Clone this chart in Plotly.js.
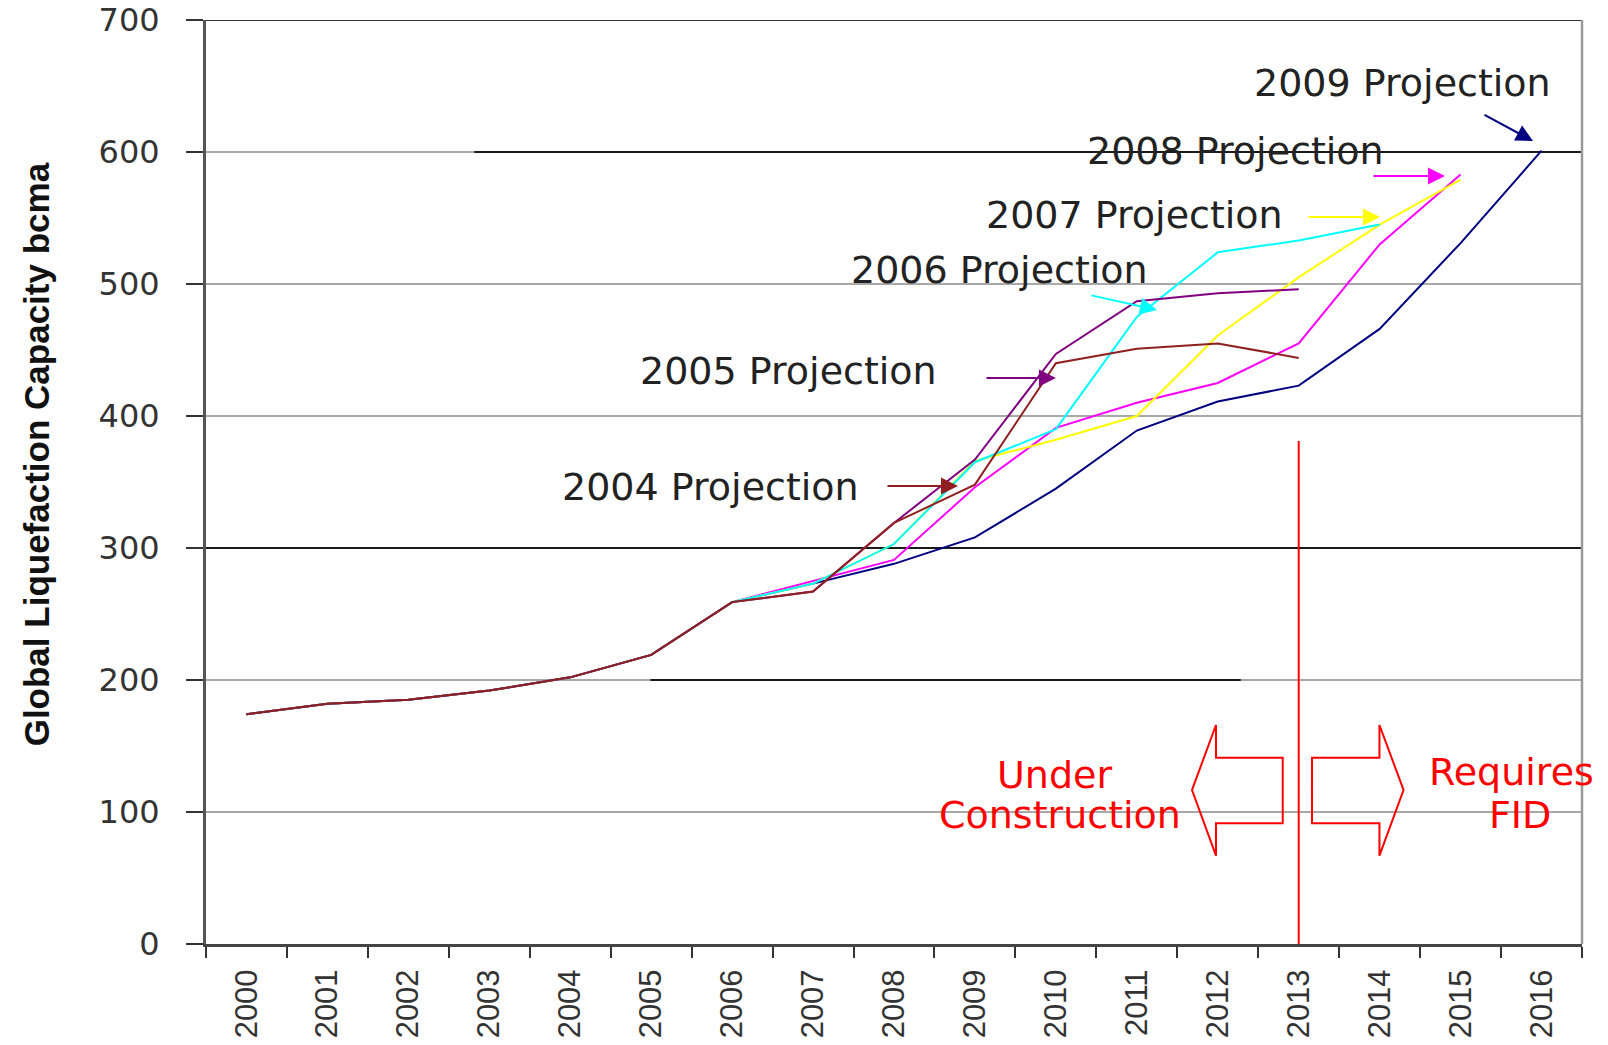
<!DOCTYPE html>
<html>
<head>
<meta charset="utf-8">
<script src="https://cdn.plot.ly/plotly-3.0.1.min.js"></script>
<style>
  html, body { margin: 0; padding: 0; background: #ffffff; }
  #chart { width: 1608px; height: 1045px; }
</style>
</head>
<body>
<div id="chart"></div>
<script>
// ---- data ----
const years = ["2000","2001","2002","2003","2004","2005","2006","2007","2008",
               "2009","2010","2011","2012","2013","2014","2015","2016"];

const proj2009 = [174,182,185,192,202,219,259,273,288,308,345,389,411,423,466,531,601];
const proj2008 = [174,182,185,192,202,219,259,275,291,346,391,410,425,455,530,583,null];
const proj2007 = [174,182,185,192,202,219,259,273,303,366,382,400,461,505,545,579,null];
const proj2006 = [174,182,185,192,202,219,259,273,303,365,390,475,524,533,545,null,null];
const proj2005 = [174,182,185,192,202,219,259,267,319,367,447,487,493,496,null,null,null];
const proj2004 = [174,182,185,192,202,219,259,267,319,348,440,451,455,444,null,null,null];

const seriesNames  = ["2009 Projection","2008 Projection","2007 Projection",
                      "2006 Projection","2005 Projection","2004 Projection"];
const seriesValues = [proj2009, proj2008, proj2007, proj2006, proj2005, proj2004];
const seriesColors = ["#000080","#FF00FF","#FFFF00","#00FFFF","#800080","#902020"];

const yTickVals = [0,100,200,300,400,500,600,700];
const yTitle = "Global Liquefaction Capacity bcma";
const fidYear = "2013";
const fidLineTop = 381;

// ---- traces ----
const traces = seriesValues.map((vals, i) => ({
  type: "scatter",
  mode: "lines",
  x: years,
  y: vals,
  name: seriesNames[i],
  line: { color: seriesColors[i], width: 2 },
  connectgaps: false,
  showlegend: false,
  hoverinfo: "x+y+name"
}));

// ---- label / arrow placement (paper coords) ----
const labelPos = [
  { x: 0.8699, y: 0.9318, hx: 0.9644, hy: 0.8690, ax: -50, ay: -27 },
  { x: 0.7485, y: 0.8582, hx: 0.9004, hy: 0.8312, ax: -73, ay: 0 },
  { x: 0.6751, y: 0.7890, hx: 0.8532, hy: 0.7868, ax: -73, ay: 0 },
  { x: 0.5770, y: 0.7294, hx: 0.6911, hy: 0.6861, ax: -67, ay: -15 },
  { x: 0.4230, y: 0.6201, hx: 0.6177, hy: 0.6126, ax: -71, ay: 0 },
  { x: 0.3663, y: 0.4946, hx: 0.5465, hy: 0.4957, ax: -72, ay: 0 }
];

const labelFont = { family: "DejaVu Sans", size: 38, color: "#222222" };
const redFont = { family: "DejaVu Sans", size: 38, color: "#FF0000" };

const annotations = [];
seriesNames.forEach((name, i) => {
  const p = labelPos[i];
  annotations.push({
    xref: "paper", yref: "paper", x: p.x, y: p.y,
    text: name, showarrow: false, font: labelFont,
    xanchor: "center", yanchor: "middle"
  });
  annotations.push({
    xref: "paper", yref: "paper", x: p.hx, y: p.hy,
    axref: "pixel", ayref: "pixel", ax: p.ax, ay: p.ay,
    text: "", showarrow: true, arrowhead: 2, arrowsize: 1.7,
    arrowwidth: 2, arrowcolor: seriesColors[i], standoff: 0
  });
});

annotations.push(
  { xref: "paper", yref: "paper", x: 0.6170, y: 0.1829, text: "Under",
    showarrow: false, font: redFont, xanchor: "center", yanchor: "middle" },
  { xref: "paper", yref: "paper", x: 0.6206, y: 0.1396, text: "Construction",
    showarrow: false, font: redFont, xanchor: "center", yanchor: "middle" },
  { xref: "paper", yref: "paper", x: 0.9491, y: 0.1861, text: "Requires",
    showarrow: false, font: redFont, xanchor: "center", yanchor: "middle" },
  { xref: "paper", yref: "paper", x: 0.9549, y: 0.1396, text: "FID",
    showarrow: false, font: redFont, xanchor: "center", yanchor: "middle" },
  { xref: "paper", yref: "paper", x: -0.1235, y: 0.530, text: yTitle,
    textangle: -90, showarrow: false,
    font: { family: "Liberation Sans", size: 35, color: "#111111", weight: "bold" },
    xanchor: "center", yanchor: "middle" }
);

// ---- shapes ----
const fidIndex = years.indexOf(fidYear);
const shapes = [];
// light gridlines, drawn beneath the series
yTickVals.filter(v => v > 0).forEach(v => {
  shapes.push({ type: "line", xref: "paper", yref: "y", x0: 0, x1: 1, y0: v, y1: v,
    line: { color: "#a8a8a8", width: 2 }, layer: "below" });
});
// darker gridline segments as seen in the picture
shapes.push(
  { type: "line", xref: "paper", yref: "y", x0: 0, x1: 1, y0: 700, y1: 700,
    line: { color: "#333333", width: 2 }, layer: "below" },
  { type: "line", xref: "paper", yref: "y", x0: 0.195, x1: 1, y0: 600, y1: 600,
    line: { color: "#1a1a1a", width: 2 }, layer: "below" },
  { type: "line", xref: "paper", yref: "y", x0: 0, x1: 1, y0: 300, y1: 300,
    line: { color: "#1a1a1a", width: 2 }, layer: "below" },
  { type: "line", xref: "paper", yref: "y", x0: 0.323, x1: 0.752, y0: 200, y1: 200,
    line: { color: "#1a1a1a", width: 2 }, layer: "below" },
  // right border
  { type: "line", xref: "paper", yref: "paper", x0: 1, x1: 1, y0: 0, y1: 1,
    line: { color: "#9a9a9a", width: 2.5 } },
  // FID vertical line
  { type: "line", xref: "x", yref: "y", x0: fidIndex, x1: fidIndex, y0: 0, y1: fidLineTop,
    line: { color: "#FF0000", width: 2 } },
  // left block arrow
  { type: "path", xref: "paper", yref: "paper",
    path: "M 0.7166 0.1667 L 0.7340 0.2370 L 0.7340 0.2016 L 0.7825 0.2016 L 0.7825 0.1306 L 0.7340 0.1306 L 0.7340 0.0956 Z",
    line: { color: "#FF0000", width: 2 }, fillcolor: "rgba(0,0,0,0)" },
  // right block arrow
  { type: "path", xref: "paper", yref: "paper",
    path: "M 0.8703 0.1667 L 0.8528 0.2370 L 0.8528 0.2016 L 0.8038 0.2016 L 0.8038 0.1306 L 0.8528 0.1306 L 0.8528 0.0956 Z",
    line: { color: "#FF0000", width: 2 }, fillcolor: "rgba(0,0,0,0)" }
);

const layout = {
  width: 1608, height: 1045,
  margin: { l: 206, r: 26, t: 20, b: 101, pad: 0 },
  paper_bgcolor: "#ffffff", plot_bgcolor: "#ffffff",
  showlegend: false,
  xaxis: {
    type: "category",
    categoryorder: "array", categoryarray: years,
    range: [-0.5, 16.5],
    tickson: "boundaries",
    ticks: "outside", ticklen: 11, tickwidth: 2, tickcolor: "#333333",
    tickangle: -90,
    ticklabelstandoff: 10,
    tickfont: { family: "Liberation Sans", size: 31, color: "#333333" },
    showgrid: false, zeroline: false,
    showline: true, linecolor: "#444444", linewidth: 3
  },
  yaxis: {
    range: [0, 700],
    tickvals: yTickVals,
    ticks: "outside", ticklen: 17, tickwidth: 2, tickcolor: "#333333",
    ticklabelstandoff: 20,
    tickfont: { family: "DejaVu Sans", size: 32, color: "#333333" },
    showgrid: false,
    zeroline: false,
    showline: true, linecolor: "#555555", linewidth: 3
  },
  annotations: annotations,
  shapes: shapes
};

Plotly.newPlot("chart", traces, layout, { displayModeBar: false, staticPlot: true });
</script>
</body>
</html>
